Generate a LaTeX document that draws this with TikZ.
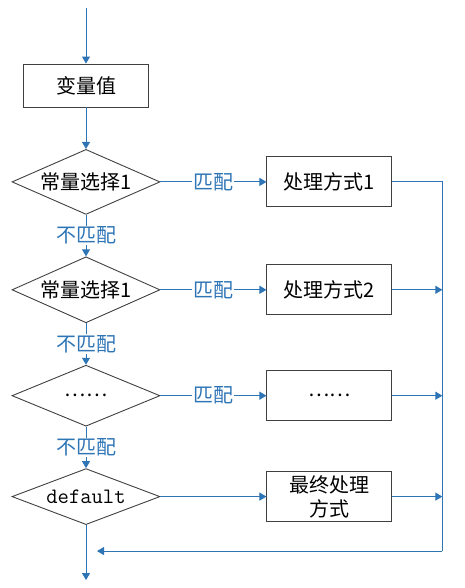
\documentclass[tikz,border=0pt]{standalone}
\usepackage{fontspec}
\setmainfont{Noto Sans CJK SC}
\usetikzlibrary{arrows.meta, shapes.geometric, positioning}
\definecolor{flowblue}{RGB}{46,117,182}
\definecolor{boxgray}{RGB}{64,64,64}

\begin{document}
\begin{tikzpicture}[
  x=1pt, y=-1pt,
  node distance=41.5pt and 106pt,
  font=\fontsize{20}{24}\selectfont,
  box/.style={
    rectangle,
    draw=boxgray, line width=0.9pt,
    minimum width=125pt, minimum height=50pt,
    inner sep=2pt,
    align=center
  },
  choice/.style={
    diamond, aspect=2.2,
    draw=boxgray, line width=0.9pt,
    minimum width=148pt,
    inner sep=1pt
  },
  arrow/.style={-{Triangle[length=7pt,width=8pt]}, draw=flowblue, line width=1pt},
  link/.style={draw=flowblue, line width=1pt},
  tag/.style={text=flowblue, fill=white, inner sep=1pt}
]

\useasboundingbox (0,0) rectangle (465,588);

\node[box, minimum height=43pt] (value) at (86,85.5) {变量值};

\node[choice, minimum height=65pt, below=of value] (case1) {常量选择1};

\node[choice, minimum height=66pt, below=of case1] (case2) {常量选择1};

\node[choice, minimum height=61pt, below=of case2] (casen) {……};

\node[choice, minimum height=56pt, below=of casen] (fallback) {\ttfamily\fontsize{22}{24}\selectfont default};

\node[box, right=of case1] (do1) {处理方式1};

\node[box, right=of case2] (do2) {处理方式2};

\node[box, right=of casen] (don) {……};

\node[box, right=of fallback] (dolast) {最终处理\\方式};

\coordinate[above=56pt of value.north] (entry);
\coordinate[below=55pt of fallback.south] (exit);
\coordinate[right=50pt of do1.east] (railtop);
\coordinate[below=26pt of fallback.south, xshift=11pt] (join);

\draw[arrow] (entry) -- (value);
\draw[arrow] (value) -- (case1);
\draw[arrow] (case1) -- node[tag] {不匹配} (case2);
\draw[arrow] (case2) -- node[tag] {不匹配} (casen);
\draw[arrow] (casen) -- node[tag] {不匹配} (fallback);
\draw[arrow] (fallback) -- (exit);

\draw[arrow] (case1) -- node[tag] {匹配} (do1);
\draw[arrow] (case2) -- node[tag] {匹配} (do2);
\draw[arrow] (casen) -- node[tag] {匹配} (don);
\draw[arrow] (fallback) -- (dolast);

\draw[link] (do1) -- (railtop) -- (railtop |- join);
\draw[arrow] (railtop |- join) -- (join);
\draw[arrow] (do2) -- (do2 -| railtop);
\draw[arrow] (don) -- (don -| railtop);
\draw[arrow] (dolast) -- (dolast -| railtop);

\end{tikzpicture}
\end{document}
